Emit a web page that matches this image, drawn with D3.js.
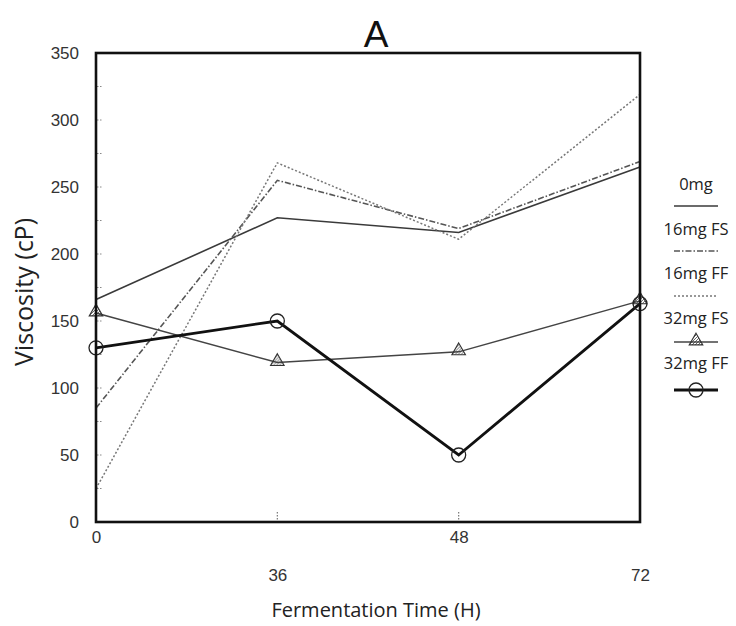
<!DOCTYPE html>
<html>
<head>
<meta charset="utf-8">
<script src="https://cdn.jsdelivr.net/npm/d3@7"></script>
<style>
  body { margin: 0; background: #fff; }
  svg { display: block; }
</style>
</head>
<body>
<svg id="chart" width="736" height="626"></svg>
<script>
// ---- data ----
const times = ["0", "36", "48", "72"];
const seriesNames = ["0mg", "16mg FS", "16mg FF", "32mg FS", "32mg FF"];
const v0mg    = [166, 227, 216, 265];
const v16FS   = [85, 255, 219, 269];
const v16FF   = [25, 268, 211, 319];
const v32FS   = [156, 119, 127, 165];
const v32FF   = [130, 150, 50, 163];
const yTicks  = [0, 50, 100, 150, 200, 250, 300, 350];
const yMinorTicks = [25, 75, 125, 175, 225, 275, 325];

const seriesValues = [v0mg, v16FS, v16FF, v32FS, v32FF];
const styles = [
  { stroke: "#3a3a3a", width: 1.6, dash: null, marker: null },
  { stroke: "#555", width: 1.6, dash: "6,2,1.5,2", marker: null },
  { stroke: "#777", width: 1.5, dash: "2,2", marker: null },
  { stroke: "#444", width: 1.4, dash: null, marker: "tri" },
  { stroke: "#111", width: 2.8, dash: null, marker: "circ" }
];

const svg = d3.select("#chart");
const L = 96, R = 640, T = 53, B = 522;

const x = d3.scalePoint().domain(times).range([L, R]);
const y = d3.scaleLinear().domain([0, 350]).range([B, T]);

const tickFont = "'Liberation Sans', Arial, sans-serif";
const labFont = "'Open Sans', 'Noto Sans', sans-serif";

// title
svg.append("text").attr("x", 376).attr("y", 47).attr("text-anchor", "middle")
  .attr("font-family", tickFont).attr("font-size", 37).attr("fill", "#111").text("A");

// y axis labels
const yAxis = d3.axisLeft(y).tickValues(yTicks).tickSize(0).tickPadding(0);
const gy = svg.append("g").attr("transform", `translate(${L},0)`).call(yAxis);
gy.select(".domain").remove();
gy.selectAll("text").attr("x", -17).attr("text-anchor", "end")
  .attr("font-family", tickFont).attr("font-size", 17).attr("fill", "#333");

// minor dotted ticks inside left axis
svg.append("g").selectAll("line").data(yTicks.concat(yMinorTicks).filter(d => d > 0 && d < 350))
  .join("line")
  .attr("x1", L + 1).attr("x2", L + 7)
  .attr("y1", d => y(d)).attr("y2", d => y(d))
  .attr("stroke", "#888").attr("stroke-width", 1).attr("stroke-dasharray", "1.5,1.5");

// x axis labels (staggered)
const xAxis = d3.axisBottom(x).tickSize(0).tickPadding(0);
const gx = svg.append("g").attr("transform", `translate(0,${B})`).call(xAxis);
gx.select(".domain").remove();
gx.selectAll("text")
  .attr("y", (d, i) => (i % 2 === 0 ? 9 : 47))
  .attr("dy", "0.71em")
  .attr("font-family", tickFont).attr("font-size", 17).attr("fill", "#333");

// dotted x ticks
svg.append("g").selectAll("line").data(["36", "48"]).join("line")
  .attr("x1", d => x(d)).attr("x2", d => x(d))
  .attr("y1", B - 10).attr("y2", B - 2)
  .attr("stroke", "#777").attr("stroke-width", 1.2).attr("stroke-dasharray", "1.5,1.5");

// axis titles
svg.append("text").attr("x", 376).attr("y", 617).attr("text-anchor", "middle")
  .attr("font-family", labFont).attr("font-size", 20).attr("fill", "#222")
  .text("Fermentation Time (H)");
svg.append("text").attr("transform", "translate(33,292) rotate(-90)")
  .attr("text-anchor", "middle")
  .attr("font-family", labFont).attr("font-size", 25).attr("fill", "#222")
  .text("Viscosity (cP)");

// hatch pattern for triangles
const defs = svg.append("defs");
defs.append("pattern").attr("id", "hatch").attr("patternUnits", "userSpaceOnUse")
  .attr("width", 3).attr("height", 3)
  .append("path").attr("d", "M0,3 L3,0").attr("stroke", "#444").attr("stroke-width", 0.8);

// lines
const line = d3.line().x((d, i) => x(times[i])).y(d => y(d));
const gLines = svg.append("g");
seriesValues.forEach((vals, k) => {
  const s = styles[k];
  gLines.append("path").datum(vals).attr("d", line)
    .attr("fill", "none").attr("stroke", s.stroke).attr("stroke-width", s.width)
    .attr("stroke-dasharray", s.dash).attr("stroke-linejoin", "miter");
});

// markers
const triPath = d3.symbol().type(d3.symbolTriangle).size(80);
function drawMarker(g, type, cx, cy) {
  if (type === "tri") {
    g.append("path").attr("d", triPath()).attr("transform", `translate(${cx},${cy - 1})`)
      .attr("fill", "url(#hatch)").attr("stroke", "#333").attr("stroke-width", 1.1);
  } else if (type === "circ") {
    g.append("circle").attr("cx", cx).attr("cy", cy).attr("r", 7)
      .attr("fill", "none").attr("stroke", "#222").attr("stroke-width", 1.3);
  }
}
const gMarks = svg.append("g");
seriesValues.forEach((vals, k) => {
  const s = styles[k];
  if (!s.marker) return;
  vals.forEach((v, i) => drawMarker(gMarks, s.marker, x(times[i]), y(v)));
});

// frame
svg.append("rect").attr("x", L).attr("y", T).attr("width", R - L).attr("height", B - T)
  .attr("fill", "none").attr("stroke", "#111").attr("stroke-width", 2.6);

// legend
const legTextY = [184, 229, 273, 318, 363];
const legLineY = [206, 251, 296, 342, 390];
const lx0 = 674, lx1 = 718, lcx = 696;
const gLeg = svg.append("g");
seriesNames.forEach((name, k) => {
  const s = styles[k];
  gLeg.append("text").attr("x", lcx).attr("y", legTextY[k]).attr("dy", "0.35em")
    .attr("text-anchor", "middle").attr("font-family", labFont)
    .attr("font-size", 16.5).attr("fill", "#222").text(name);
  gLeg.append("line").attr("x1", lx0).attr("x2", lx1)
    .attr("y1", legLineY[k]).attr("y2", legLineY[k])
    .attr("stroke", s.stroke).attr("stroke-width", s.width).attr("stroke-dasharray", s.dash);
  if (s.marker) drawMarker(gLeg, s.marker, lcx, legLineY[k]);
});
</script>
</body>
</html>
